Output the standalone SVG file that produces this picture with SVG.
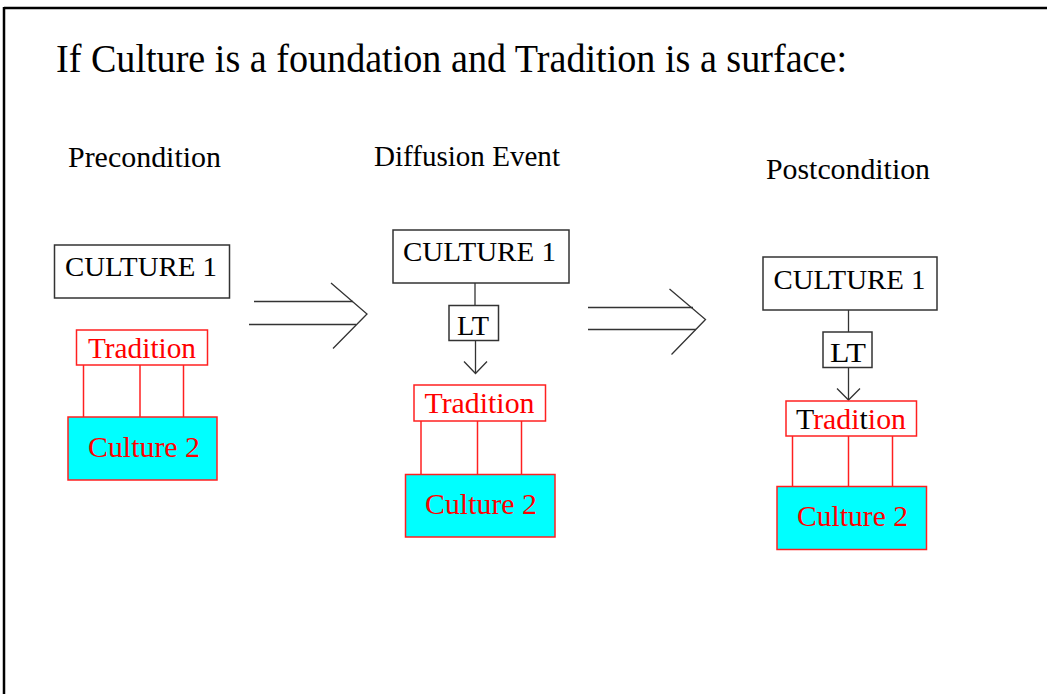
<svg xmlns="http://www.w3.org/2000/svg" width="1047" height="694" viewBox="0 0 1047 694">
<style>
text{font-family:"Liberation Serif","Times New Roman",serif;}
.k{fill:#000;font-size:28px;}
.r{fill:#ff0000;font-size:29px;}
.sub{fill:#000;font-size:30px;}
.bb{fill:#fff;stroke:#333;stroke-width:1.5;}
.rb{fill:#fff;stroke:#ff2020;stroke-width:1.5;}
.cb{fill:#00ffff;stroke:#ff2020;stroke-width:1.5;}
.rl{stroke:#ff2020;stroke-width:1.5;fill:none;}
.bl{stroke:#333;stroke-width:1.3;fill:none;}
</style>
<rect x="0" y="0" width="1047" height="694" fill="#fff"/>
<g id="frame">
<line x1="4" y1="8" x2="1047" y2="8" stroke="#000" stroke-width="2.5"/>
<line x1="4" y1="7" x2="4" y2="694" stroke="#000" stroke-width="2.5"/>
</g>
<g id="title">
<text x="56" y="72" font-size="40" fill="#000" textLength="791" lengthAdjust="spacingAndGlyphs">If Culture is a foundation and Tradition is a surface:</text>
</g>
<g id="subtitles">
<text class="sub" x="68" y="167" textLength="153" lengthAdjust="spacingAndGlyphs">Precondition</text>
<text class="sub" x="374" y="166" textLength="186" lengthAdjust="spacingAndGlyphs">Diffusion Event</text>
<text class="sub" x="766" y="179" textLength="164" lengthAdjust="spacingAndGlyphs">Postcondition</text>
</g>
<g id="connectors">
<!-- stage 1 -->
<line class="rl" x1="83.5" y1="365" x2="83.5" y2="417"/>
<line class="rl" x1="140" y1="365" x2="140" y2="417"/>
<line class="rl" x1="183.5" y1="365" x2="183.5" y2="417"/>
<!-- stage 2 -->
<line class="bl" x1="475" y1="283" x2="475" y2="305"/>
<line class="bl" x1="475.5" y1="340" x2="475.5" y2="373"/>
<polyline class="bl" points="464,361.5 475.5,373.5 487,361.5"/>
<line class="rl" x1="421" y1="421" x2="421" y2="474"/>
<line class="rl" x1="477.5" y1="421" x2="477.5" y2="474"/>
<line class="rl" x1="521.5" y1="421" x2="521.5" y2="474"/>
<!-- stage 3 -->
<line class="bl" x1="848.5" y1="310" x2="848.5" y2="332"/>
<line class="bl" x1="848.5" y1="368" x2="848.5" y2="400"/>
<polyline class="bl" points="837,388.5 848.5,400 860,388.5"/>
<line class="rl" x1="792.5" y1="436" x2="792.5" y2="486"/>
<line class="rl" x1="848.5" y1="436" x2="848.5" y2="486"/>
<line class="rl" x1="892.5" y1="436" x2="892.5" y2="486"/>
<!-- big arrows -->
<g id="arrow1" class="bl">
<line x1="254" y1="301.5" x2="353" y2="301.5"/>
<line x1="249" y1="324.5" x2="356" y2="324.5"/>
<polyline points="331,283 367,314 333,348.5"/>
</g>
<g id="arrow2" class="bl">
<line x1="588" y1="307.5" x2="693" y2="307.5"/>
<line x1="588" y1="329.5" x2="696" y2="329.5"/>
<polyline points="669.5,289 705.5,319.5 671.5,354.5"/>
</g>
</g>
<g id="pre-culture1">
<rect class="bb" x="54.5" y="245" width="175" height="53"/>
<text class="k" x="65" y="276" textLength="152" lengthAdjust="spacingAndGlyphs">CULTURE 1</text>
</g>
<g id="pre-tradition">
<rect class="rb" x="76.5" y="330" width="131" height="35"/>
<text class="r" x="88" y="358" textLength="108" lengthAdjust="spacingAndGlyphs">Tradition</text>
</g>
<g id="pre-culture2">
<rect class="cb" x="68" y="417" width="149" height="63"/>
<text class="r" x="88" y="457" font-size="30" textLength="112" lengthAdjust="spacingAndGlyphs">Culture 2</text>
</g>
<g id="diff-culture1">
<rect class="bb" x="393" y="230" width="176" height="53"/>
<text class="k" x="403" y="261" textLength="153" lengthAdjust="spacingAndGlyphs">CULTURE 1</text>
</g>
<g id="diff-lt">
<rect class="bb" x="449" y="305.5" width="49.5" height="35"/>
<text class="k" x="457" y="335" textLength="32" lengthAdjust="spacingAndGlyphs">LT</text>
</g>
<g id="diff-tradition">
<rect class="rb" x="414" y="385" width="131.5" height="36"/>
<text class="r" x="424.5" y="413" textLength="110" lengthAdjust="spacingAndGlyphs">Tradition</text>
</g>
<g id="diff-culture2">
<rect class="cb" x="405.5" y="474.5" width="149.5" height="62.5"/>
<text class="r" x="425" y="513.5" font-size="30" textLength="112" lengthAdjust="spacingAndGlyphs">Culture 2</text>
</g>
<g id="post-culture1">
<rect class="bb" x="763" y="257" width="174" height="53"/>
<text class="k" x="773.5" y="288.5" textLength="152" lengthAdjust="spacingAndGlyphs">CULTURE 1</text>
</g>
<g id="post-lt">
<rect class="bb" x="823" y="332" width="49" height="35.5"/>
<text class="k" x="830" y="362" textLength="36" lengthAdjust="spacingAndGlyphs">LT</text>
</g>
<g id="post-tradition">
<rect class="rb" x="786" y="401" width="130.5" height="35"/>
<text class="r" x="796" y="429" textLength="110" lengthAdjust="spacingAndGlyphs"><tspan fill="#000">T</tspan>radi<tspan fill="#000">t</tspan>ion</text>
</g>
<g id="post-culture2">
<rect class="cb" x="777" y="486.5" width="149.5" height="63"/>
<text class="r" x="797" y="526" font-size="30" textLength="111" lengthAdjust="spacingAndGlyphs">Culture 2</text>
</g>
</svg>
